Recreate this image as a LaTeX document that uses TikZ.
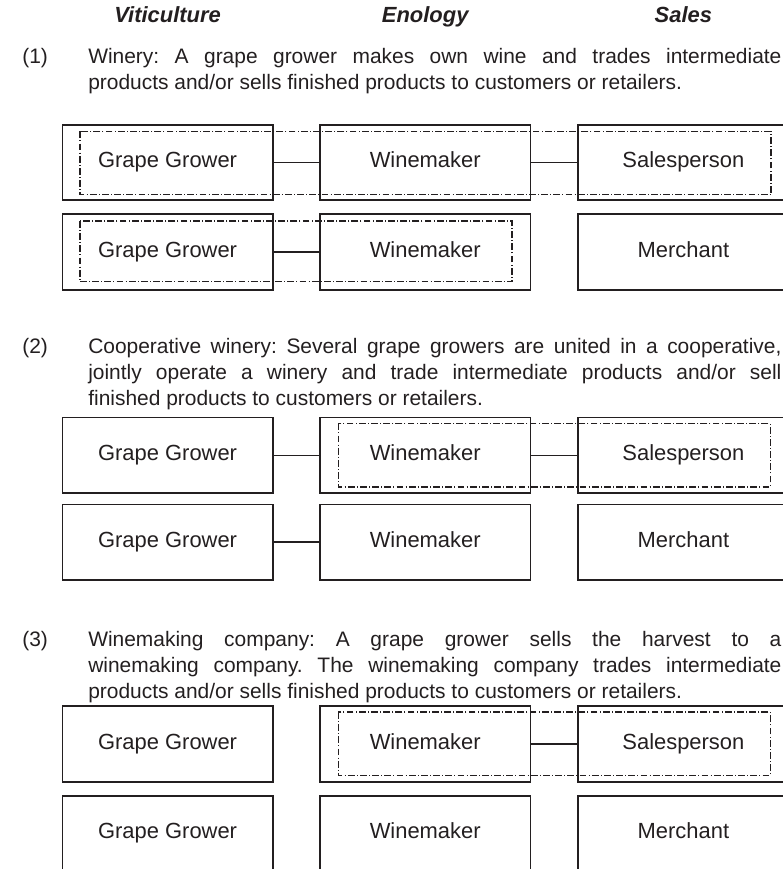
\documentclass[tikz,border=0pt]{standalone}
\usepackage{fontspec}
\setmainfont{Liberation Sans}
\usetikzlibrary{calc}
\definecolor{ink}{HTML}{231F20}
\frenchspacing

\begin{document}
\begin{tikzpicture}[
  text=ink,
  box/.style={draw=ink, line width=0.42mm, minimum width=52.6mm, minimum height=18.9mm,
    inner sep=0pt, text height=0.9em, text depth=0.18em, font={\fontsize{15.6}{18}\selectfont}},
  link/.style={draw=ink, line width=0.42mm},
  group/.style={draw=ink, line width=0.28mm,
    dash pattern=on 1.7mm off 0.55mm on 0.25mm off 0.55mm},
  colhead/.style={font={\fontsize{15.6}{18}\selectfont\bfseries\itshape}, anchor=base},
  num/.style={anchor=base west, inner sep=0pt, font={\fontsize{14.9}{18.4}\selectfont}},
  para/.style={anchor=base west, inner sep=0pt, text width=173.3mm, align=justify,
    font={\fontsize{14.9}{18.4}\selectfont\hyphenpenalty=10000}}
]
\useasboundingbox (0,0) rectangle (195.75mm,-217.25mm);
\clip (0,0) rectangle (195.75mm,-217.25mm);

% column heads
\node[colhead] (hvit) at (41.9mm,-5.5mm) {Viticulture};
\node[colhead] (heno) at (106.3mm,-5.5mm) {Enology};
\node[colhead] (hsal) at (170.85mm,-5.5mm) {Sales};

% ---------------------------------------------------------------------------
% (1) Winery
% ---------------------------------------------------------------------------
\node[num] (n1) at (5.5mm,-15.9mm) {(1)};
\node[para] (p1) at (22mm,-15.9mm) {Winery: A grape grower makes own wine and trades intermediate\linebreak
  products and/or sells finished products to customers or retailers.};

\node[box] (grow1) at (41.9mm,-40.63mm) {Grape Grower};
\node[box] (make1) at (106.3mm,-40.63mm) {Winemaker};
\node[box] (sell1) at (170.85mm,-40.63mm) {Salesperson};
\draw[link] (grow1) -- (make1);
\draw[link] (make1) -- (sell1);
\draw[group] ($(grow1.north west)+(4.6mm,-1.9mm)$) rectangle ($(sell1.south east)+(-4.6mm,1.6mm)$);

\node[box] (grow1b) at (41.9mm,-63mm) {Grape Grower};
\node[box] (make1b) at (106.3mm,-63mm) {Winemaker};
\node[box] (merch1) at (170.85mm,-63mm) {Merchant};
\draw[link] (grow1b) -- (make1b);
\draw[group] ($(grow1b.north west)+(4.6mm,-1.9mm)$) rectangle ($(make1b.south east)+(-4.8mm,2.2mm)$);

% ---------------------------------------------------------------------------
% (2) Cooperative winery
% ---------------------------------------------------------------------------
\node[num] (n2) at (5.5mm,-88.4mm) {(2)};
\node[para] (p2) at (22mm,-88.4mm) {Cooperative winery: Several grape growers are united in a cooperative,\linebreak
  jointly operate a winery and trade intermediate products and/or sell\linebreak
  finished products to customers or retailers.};

\node[box] (grow2) at (41.9mm,-113.84mm) {Grape Grower};
\node[box] (make2) at (106.3mm,-113.84mm) {Winemaker};
\node[box] (sell2) at (170.85mm,-113.84mm) {Salesperson};
\draw[link] (grow2) -- (make2);
\draw[link] (make2) -- (sell2);
\draw[group] ($(make2.north west)+(4.8mm,-1.65mm)$) rectangle ($(sell2.south east)+(-4.8mm,1.75mm)$);

\node[box] (grow2b) at (41.9mm,-135.54mm) {Grape Grower};
\node[box] (make2b) at (106.3mm,-135.54mm) {Winemaker};
\node[box] (merch2) at (170.85mm,-135.54mm) {Merchant};
\draw[link] (grow2b) -- (make2b);

% ---------------------------------------------------------------------------
% (3) Winemaking company
% ---------------------------------------------------------------------------
\node[num] (n3) at (5.5mm,-161.6mm) {(3)};
\node[para] (p3) at (22mm,-161.6mm) {Winemaking company: A grape grower sells the harvest to a\linebreak
  winemaking company. The winemaking company trades intermediate\linebreak
  products and/or sells finished products to customers or retailers.};

\node[box] (grow3) at (41.9mm,-186mm) {Grape Grower};
\node[box] (make3) at (106.3mm,-186mm) {Winemaker};
\node[box] (sell3) at (170.85mm,-186mm) {Salesperson};
\draw[link] (make3) -- (sell3);
\draw[group] ($(make3.north west)+(4.8mm,-1.65mm)$) rectangle ($(sell3.south east)+(-4.8mm,1.75mm)$);

\node[box] (grow3b) at (41.9mm,-208.4mm) {Grape Grower};
\node[box] (make3b) at (106.3mm,-208.4mm) {Winemaker};
\node[box] (merch3) at (170.85mm,-208.4mm) {Merchant};

\end{tikzpicture}
\end{document}
